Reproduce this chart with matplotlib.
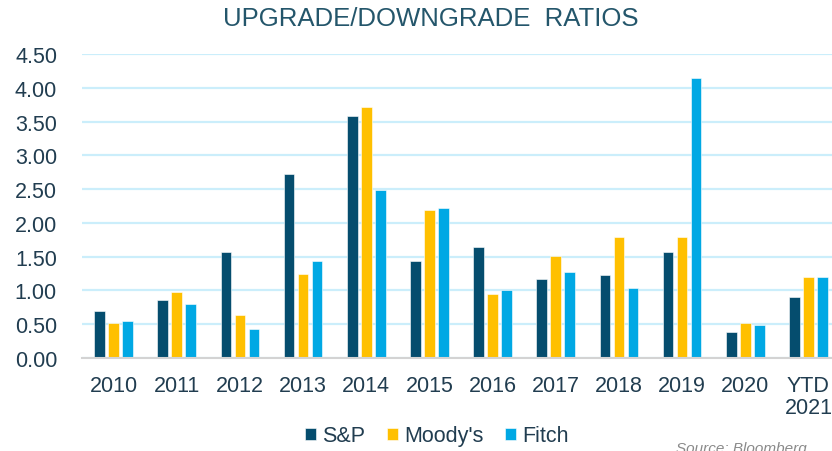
import matplotlib
matplotlib.use("Agg")
import matplotlib.pyplot as plt
import numpy as np

categories = ["2010", "2011", "2012", "2013", "2014", "2015", "2016", "2017", "2018", "2019", "2020", "YTD\n2021"]
sp = [0.69, 0.86, 1.57, 2.73, 3.58, 1.43, 1.65, 1.17, 1.23, 1.57, 0.38, 0.91]
moodys = [0.52, 0.97, 0.63, 1.25, 3.72, 2.19, 0.94, 1.51, 1.79, 1.79, 0.52, 1.20]
fitch = [0.55, 0.80, 0.43, 1.43, 2.49, 2.22, 1.00, 1.28, 1.03, 4.14, 0.49, 1.20]
series_names = ["S&P", "Moody's", "Fitch"]
yticks = [0.0, 0.5, 1.0, 1.5, 2.0, 2.5, 3.0, 3.5, 4.0, 4.5]

plt.rcParams['font.family'] = ['Liberation Sans', 'DejaVu Sans']
text_color = "#213d50"

W, H = 832, 452
fig = plt.figure(figsize=(W / 100, H / 100), dpi=100)
left, right = 82, 840
bottom, top = 359, 55
ax = fig.add_axes([left / W, (H - bottom) / H, (right - left) / W, (bottom - top) / H])

x = np.arange(len(categories))
bw = 0.17
off = 0.222
colors = ["#054d6e", "#ffc000", "#00a8e4"]
for vals, dx, c, name in zip([sp, moodys, fitch], [-off, 0, off], colors, series_names):
    ax.bar(x + dx, vals, width=bw, color=c, label=name, edgecolor="white", linewidth=0.4, zorder=3)

ax.set_xlim(-0.5, len(categories) - 0.5)
ax.set_ylim(0, 4.5)
ax.set_yticks(yticks)
ax.set_yticklabels([f"{v:.2f}" for v in yticks])
ax.set_xticks(x)
ax.set_xticklabels(categories, linespacing=1.1)
ax.grid(axis="y", color="#cbeefb", linewidth=1.6, zorder=0)
for s in ["top", "right", "left"]:
    ax.spines[s].set_visible(False)
ax.spines["bottom"].set_color("#d3d3d3")
ax.spines["bottom"].set_linewidth(1.5)
ax.spines["bottom"].set_zorder(4)
ax.tick_params(axis="both", length=0, labelsize=15.5, colors=text_color)
ax.tick_params(axis="y", pad=18)
ax.tick_params(axis="x", pad=12)

fig.text(431 / W, 1 - 19 / H, "UPGRADE/DOWNGRADE  RATIOS", ha="center", va="center",
         fontsize=18.5, color="#24566b")

handles, labels = ax.get_legend_handles_labels()
leg = fig.legend(handles, labels, loc="center", bbox_to_anchor=(437 / W, 1 - 437 / H), ncol=3,
                 frameon=False, fontsize=15.5, handlelength=0.5, handleheight=0.5,
                 handletextpad=0.3, columnspacing=1.0)
for t in leg.get_texts():
    t.set_color(text_color)

fig.text(676 / W, 1 - 449 / H, "Source: Bloomberg", ha="left", va="center",
         fontsize=11, style="italic", color="#8a8a8a")

fig.savefig("out.png", dpi=100)
